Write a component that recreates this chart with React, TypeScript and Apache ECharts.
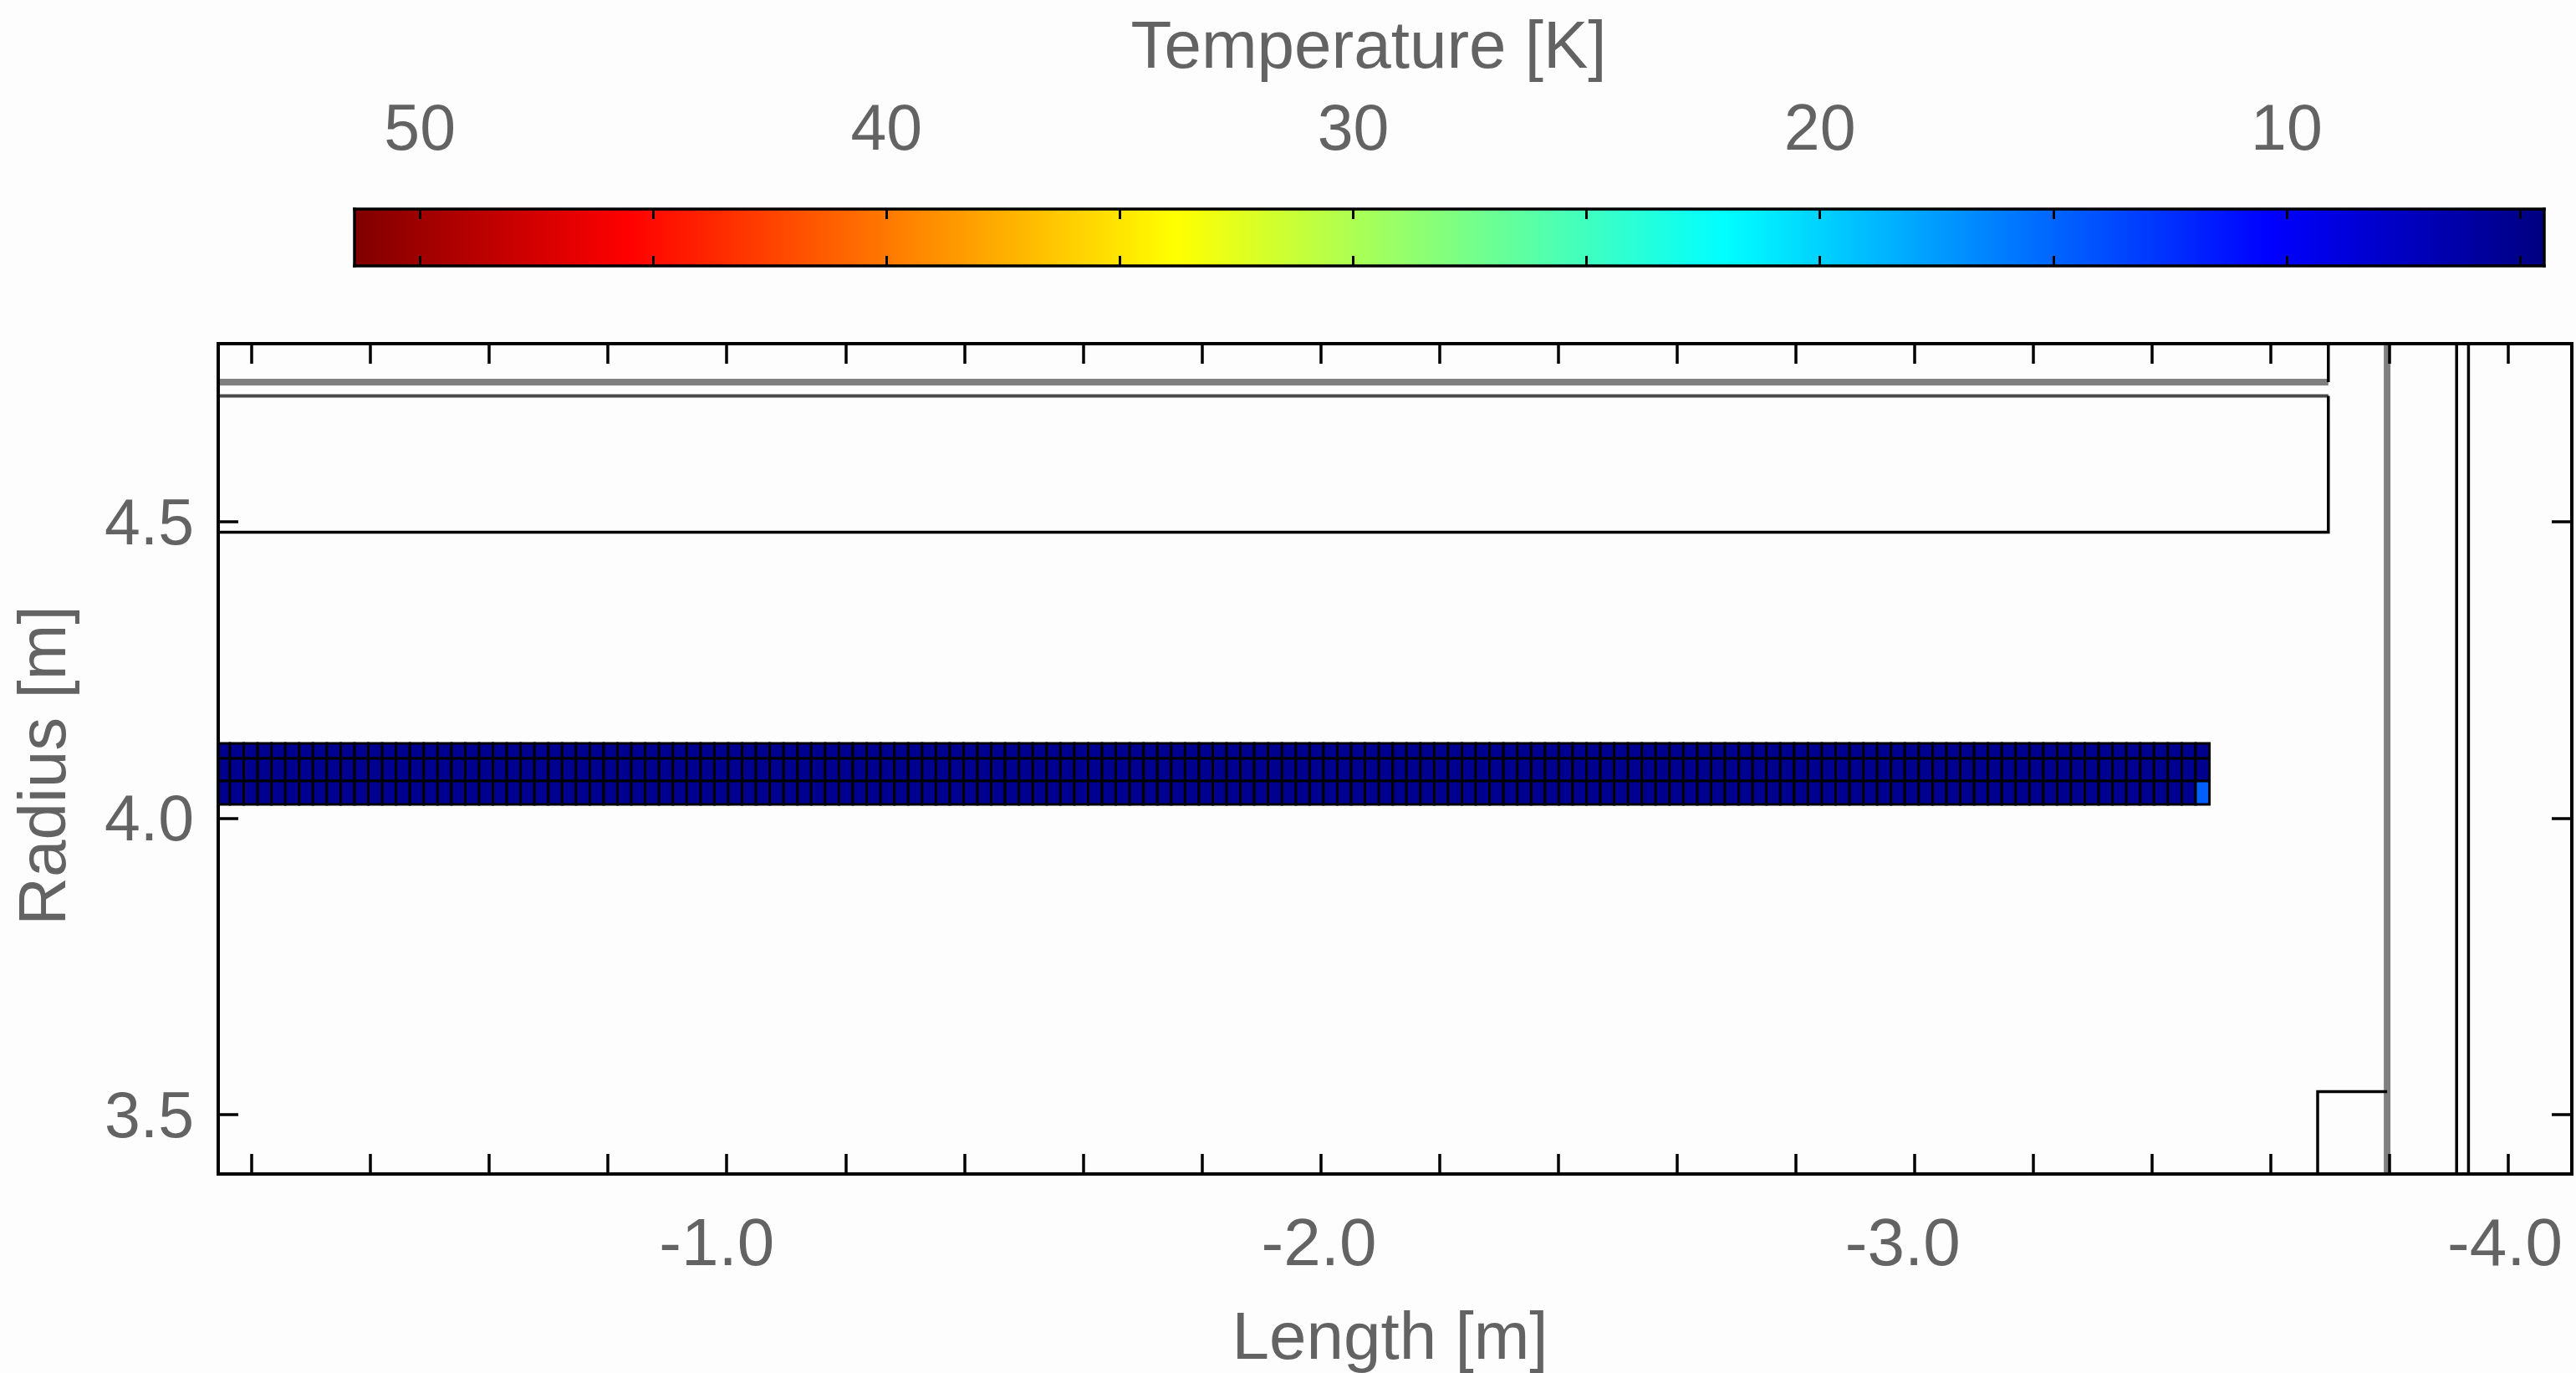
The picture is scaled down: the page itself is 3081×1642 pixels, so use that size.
import React, { useEffect, useRef } from "react";
import * as echarts from "echarts";

const FONT = "Liberation Sans";
const TEXT = "#636363";

// Axis extents and ticks
const lengthExtent = [-4.107, -0.1437];
const radiusExtent = [3.4, 4.8];
const lengthTicks = [-0.2, -0.4, -0.6, -0.8, -1.0, -1.2, -1.4, -1.6, -1.8, -2.0, -2.2, -2.4, -2.6, -2.8, -3.0, -3.2, -3.4, -3.6, -3.8, -4.0];
const lengthLabels = [-1.0, -2.0, -3.0, -4.0];
const radiusTicks = [3.5, 4.0, 4.5];
const temperatureExtent = [4.48, 51.4];
const temperatureTicks = [5, 10, 15, 20, 25, 30, 35, 40, 45, 50];
const temperatureLabels = [10, 20, 30, 40, 50];
const jetColors = ["#000080", "#0000ff", "#0080ff", "#00ffff", "#80ff80", "#ffff00", "#ff8000", "#ff0000", "#800000"];

// Geometry outlines [length, radius]
const upperShield = [[-0.1437, 4.735], [-3.697, 4.735]];
const upperShieldEnd = [[-3.697, 4.8], [-3.697, 4.735]];
const outerVesselTop = [[-0.1437, 4.712], [-3.697, 4.712]];
const outerVesselSide = [[-3.697, 4.712], [-3.697, 4.482], [-0.1437, 4.482]];
const endShield = [[-3.796, 3.4], [-3.796, 4.8]];
const endPlateA = [[-3.913, 3.4], [-3.913, 4.8]];
const endPlateB = [[-3.933, 3.4], [-3.933, 4.8]];
const lowerBox = [[-3.679, 3.4], [-3.679, 3.539], [-3.796, 3.539]];

// Coil mesh
const meshFrameEdge = -0.1437;
const meshFirstEdge = -0.1634;
const meshCellWidth = 0.02331;
const rowEdges = [4.126, 4.1006, 4.0626, 4.0232];
const rowTop = [
  5.2, 5.2, 5.2, 5.2, 5.2, 5.2, 5.2, 5.2, 5.2, 5.2, 5.2, 5.2, 5.2, 5.2, 5.2, 5.2, 5.2, 5.2,
  5.2, 5.2, 5.2, 5.2, 5.2, 5.2, 5.2, 5.2, 5.2, 5.2, 5.2, 5.2, 5.2, 5.2, 5.2, 5.2, 5.2, 5.2,
  5.2, 5.2, 5.2, 5.2, 5.2, 5.2, 5.2, 5.2, 5.2, 5.2, 5.2, 5.2, 5.2, 5.2, 5.2, 5.2, 5.2, 5.2,
  5.2, 5.2, 5.2, 5.2, 5.2, 5.2, 5.2, 5.2, 5.2, 5.2, 5.2, 5.2, 5.2, 5.2, 5.2, 5.2, 5.2, 5.2,
  5.2, 5.2, 5.2, 5.2, 5.2, 5.2, 5.2, 5.2, 5.2, 5.2, 5.2, 5.2, 5.2, 5.2, 5.2, 5.2, 5.2, 5.2,
  5.2, 5.2, 5.2, 5.2, 5.2, 5.2, 5.2, 5.2, 5.2, 5.2, 5.2, 5.2, 5.2, 5.2, 5.2, 5.2, 5.2, 5.2,
  5.2, 5.2, 5.2, 5.2, 5.2, 5.2, 5.2, 5.2, 5.2, 5.2, 5.2, 5.2, 5.2, 5.2, 5.2, 5.2, 5.2, 5.2,
  5.2, 5.2, 5.2, 5.2, 5.2, 5.2, 5.2, 5.2, 5.2, 5.2, 5.2, 5.2, 5.2, 5.2, 5.2, 5.2, 5.2, 5.2,
];
const rowMiddle = [
  5.2, 5.2, 5.2, 5.2, 5.2, 5.2, 5.2, 5.2, 5.2, 5.2, 5.2, 5.2, 5.2, 5.2, 5.2, 5.2, 5.2, 5.2,
  5.2, 5.2, 5.2, 5.2, 5.2, 5.2, 5.2, 5.2, 5.2, 5.2, 5.2, 5.2, 5.2, 5.2, 5.2, 5.2, 5.2, 5.2,
  5.2, 5.2, 5.2, 5.2, 5.2, 5.2, 5.2, 5.2, 5.2, 5.2, 5.2, 5.2, 5.2, 5.2, 5.2, 5.2, 5.2, 5.2,
  5.2, 5.2, 5.2, 5.2, 5.2, 5.2, 5.2, 5.2, 5.2, 5.2, 5.2, 5.2, 5.2, 5.2, 5.2, 5.2, 5.2, 5.2,
  5.2, 5.2, 5.2, 5.2, 5.2, 5.2, 5.2, 5.2, 5.2, 5.2, 5.2, 5.2, 5.2, 5.2, 5.2, 5.2, 5.2, 5.2,
  5.2, 5.2, 5.2, 5.2, 5.2, 5.2, 5.2, 5.2, 5.2, 5.2, 5.2, 5.2, 5.2, 5.2, 5.2, 5.2, 5.2, 5.2,
  5.2, 5.2, 5.2, 5.2, 5.2, 5.2, 5.2, 5.2, 5.2, 5.2, 5.2, 5.2, 5.2, 5.2, 5.2, 5.2, 5.2, 5.2,
  5.2, 5.2, 5.2, 5.2, 5.2, 5.2, 5.2, 5.2, 5.2, 5.2, 5.2, 5.2, 5.2, 5.2, 5.2, 5.2, 5.2, 5.2,
];
const rowBottom = [
  5.2, 5.2, 5.2, 5.2, 5.2, 5.2, 5.2, 5.2, 5.2, 5.2, 5.2, 5.2, 5.2, 5.2, 5.2, 5.2, 5.2, 5.2,
  5.2, 5.2, 5.2, 5.2, 5.2, 5.2, 5.2, 5.2, 5.2, 5.2, 5.2, 5.2, 5.2, 5.2, 5.2, 5.2, 5.2, 5.2,
  5.2, 5.2, 5.2, 5.2, 5.2, 5.2, 5.2, 5.2, 5.2, 5.2, 5.2, 5.2, 5.2, 5.2, 5.2, 5.2, 5.2, 5.2,
  5.2, 5.2, 5.2, 5.2, 5.2, 5.2, 5.2, 5.2, 5.2, 5.2, 5.2, 5.2, 5.2, 5.2, 5.2, 5.2, 5.2, 5.2,
  5.2, 5.2, 5.2, 5.2, 5.2, 5.2, 5.2, 5.2, 5.2, 5.2, 5.2, 5.2, 5.2, 5.2, 5.2, 5.2, 5.2, 5.2,
  5.2, 5.2, 5.2, 5.2, 5.2, 5.2, 5.2, 5.2, 5.2, 5.2, 5.2, 5.2, 5.2, 5.2, 5.2, 5.2, 5.2, 5.2,
  5.2, 5.2, 5.2, 5.2, 5.2, 5.2, 5.2, 5.2, 5.2, 5.2, 5.2, 5.2, 5.2, 5.2, 5.2, 5.2, 5.2, 5.2,
  5.2, 5.2, 5.2, 5.2, 5.2, 5.2, 5.2, 5.2, 5.2, 5.2, 5.2, 5.2, 5.2, 5.2, 5.2, 5.2, 5.2, 14.7,
];
const rows = [rowTop, rowMiddle, rowBottom];

const meshCells: number[][] = [];
rows.forEach((row, r) => {
  row.forEach((t, c) => {
    const a = c === 0 ? meshFrameEdge : meshFirstEdge - (c - 1) * meshCellWidth;
    const b = meshFirstEdge - c * meshCellWidth;
    meshCells.push([a, b, rowEdges[r], rowEdges[r + 1], t]);
  });
});

function outline(data: number[][], color: string, width: number) {
  return {
    type: "line",
    data,
    xAxisIndex: 0,
    yAxisIndex: 0,
    symbol: "none",
    silent: true,
    clip: true,
    z: 3,
    lineStyle: { color, width, cap: "butt", join: "miter" },
  };
}

const frameLine = (width: number) => ({ show: true, onZero: false, lineStyle: { color: "#000", width, cap: "square" } });

export default function App() {
  const ref = useRef<HTMLDivElement>(null);
  useEffect(() => {
    document.body.style.margin = "0";
    document.body.style.overflow = "hidden";
    const chart = echarts.init(ref.current!, undefined, { renderer: "svg" });
    const n = jetColors.length - 1;
    const gradientStops = jetColors.map((c, i) => ({ offset: 1 - i / n, color: c })).reverse();

    const lenTick = (length: number, width: number, customValues: number[]) => ({
      show: true,
      inside: true,
      length,
      customValues,
      lineStyle: { color: "#000", width },
    });
    const hidden = { show: false };
    const labelStyle = { fontSize: 80, color: TEXT, fontFamily: FONT };

    chart.setOption({
      animation: false,
      backgroundColor: "#fdfdfd",
      textStyle: { fontFamily: FONT },
      grid: [
        { left: 261, top: 411, width: 2815, height: 996 },
        { left: 424, top: 250, width: 2619, height: 68 },
      ],
      visualMap: {
        show: false,
        seriesIndex: 0,
        dimension: 4,
        min: temperatureExtent[0],
        max: temperatureExtent[1],
        inRange: { color: jetColors },
      },
      xAxis: [
        {
          type: "value",
          gridIndex: 0,
          position: "bottom",
          z: 10,
          inverse: true,
          min: lengthExtent[0],
          max: lengthExtent[1],
          axisLine: frameLine(4),
          axisTick: lenTick(24, 3.5, lengthTicks),
          splitLine: hidden,
          axisLabel: {
            show: true,
            customValues: lengthLabels,
            formatter: (v: number) => {
              const s = v.toFixed(1);
              const key = v === -1 ? "a" : v === -3 ? "c" : v === -2 ? "b" : "d";
              return "{" + key + "|" + s + "}";
            },
            margin: 41,
            ...labelStyle,
            rich: {
              a: { ...labelStyle, padding: [0, 24, 0, 0] },
              b: { ...labelStyle, padding: [0, 4, 0, 0] },
              c: { ...labelStyle, padding: [0, 28, 0, 0] },
              d: { ...labelStyle, padding: [0, 8, 0, 0] },
            },
          },
          name: "Length [m]",
          nameLocation: "middle",
          nameGap: 153,
          nameTextStyle: { ...labelStyle, padding: [0, 12, 0, 0] },
        },
        {
          type: "value",
          gridIndex: 0,
          position: "top",
          z: 10,
          inverse: true,
          min: lengthExtent[0],
          max: lengthExtent[1],
          axisLine: frameLine(4),
          axisTick: lenTick(24, 3.5, lengthTicks),
          axisLabel: hidden,
          splitLine: hidden,
        },
        {
          type: "value",
          gridIndex: 1,
          position: "top",
          z: 10,
          inverse: true,
          min: temperatureExtent[0],
          max: temperatureExtent[1],
          axisLine: frameLine(3.5),
          axisTick: lenTick(12, 3, temperatureTicks),
          splitLine: hidden,
          axisLabel: {
            show: true,
            customValues: temperatureLabels,
            formatter: (v: number) => String(v),
            margin: 60,
            fontSize: 77,
            color: TEXT,
            fontFamily: FONT,
          },
          name: "Temperature [K]",
          nameLocation: "middle",
          nameGap: 157,
          nameTextStyle: { ...labelStyle, padding: [0, 193, 0, 0] },
        },
        {
          type: "value",
          gridIndex: 1,
          position: "bottom",
          z: 10,
          inverse: true,
          min: temperatureExtent[0],
          max: temperatureExtent[1],
          axisLine: frameLine(3.5),
          axisTick: lenTick(12, 3, temperatureTicks),
          axisLabel: hidden,
          splitLine: hidden,
        },
      ],
      yAxis: [
        {
          type: "value",
          gridIndex: 0,
          position: "left",
          z: 10,
          min: radiusExtent[0],
          max: radiusExtent[1],
          axisLine: frameLine(4),
          axisTick: lenTick(24, 3.5, radiusTicks),
          splitLine: hidden,
          axisLabel: {
            show: true,
            customValues: radiusTicks,
            formatter: (v: number) => v.toFixed(1),
            margin: 29,
            fontSize: 77,
            color: TEXT,
            fontFamily: FONT,
          },
          name: "Radius [m]",
          nameLocation: "middle",
          nameGap: 171,
          nameRotate: 90,
          nameTextStyle: { ...labelStyle, padding: [0, 16, 0, 0] },
        },
        {
          type: "value",
          gridIndex: 0,
          position: "right",
          z: 10,
          min: radiusExtent[0],
          max: radiusExtent[1],
          axisLine: frameLine(4),
          axisTick: lenTick(24, 3.5, radiusTicks),
          axisLabel: hidden,
          splitLine: hidden,
        },
        {
          type: "value",
          gridIndex: 1,
          position: "left",
          z: 10,
          min: 0,
          max: 1,
          axisLine: frameLine(3.5),
          axisTick: hidden,
          axisLabel: hidden,
          splitLine: hidden,
        },
        {
          type: "value",
          gridIndex: 1,
          position: "right",
          z: 10,
          min: 0,
          max: 1,
          axisLine: frameLine(3.5),
          axisTick: hidden,
          axisLabel: hidden,
          splitLine: hidden,
        },
      ],
      series: [
        {
          type: "custom",
          name: "Coil temperature",
          xAxisIndex: 0,
          yAxisIndex: 0,
          data: meshCells,
          dimensions: ["x0", "x1", "y0", "y1", "T"],
          encode: { x: [0, 1], y: [2, 3] },
          silent: true,
          z: 2,
          renderItem: (_p: any, api: any) => {
            const a = api.coord([api.value(0), api.value(2)]);
            const b = api.coord([api.value(1), api.value(3)]);
            return {
              type: "rect",
              shape: { x: a[0], y: a[1], width: b[0] - a[0], height: b[1] - a[1] },
              style: { fill: api.visual("color"), stroke: "#000", lineWidth: 3 },
            };
          },
        },
        {
          type: "custom",
          name: "Colour scale",
          xAxisIndex: 2,
          yAxisIndex: 2,
          data: [[temperatureExtent[1], temperatureExtent[0], 0, 1]],
          dimensions: ["x0", "x1", "y0", "y1"],
          encode: { x: [0, 1], y: [2, 3] },
          silent: true,
          z: 1,
          renderItem: (_p: any, api: any) => {
            const a = api.coord([api.value(0), api.value(3)]);
            const b = api.coord([api.value(1), api.value(2)]);
            return {
              type: "rect",
              shape: { x: a[0], y: a[1], width: b[0] - a[0], height: b[1] - a[1] },
              style: { fill: new echarts.graphic.LinearGradient(0, 0, 1, 0, gradientStops) },
            };
          },
        },
        outline(upperShield, "#808080", 8),
        outline(upperShieldEnd, "#000", 3.5),
        outline(outerVesselTop, "#4a4a4a", 4),
        outline(outerVesselSide, "#000", 3.5),
        outline(endShield, "#808080", 8),
        outline(endPlateA, "#000", 3.5),
        outline(endPlateB, "#000", 3.5),
        outline(lowerBox, "#000", 3.5),
      ],
    });
    return () => chart.dispose();
  }, []);
  return <div ref={ref} style={{ width: 3081, height: 1642 }} />;
}
